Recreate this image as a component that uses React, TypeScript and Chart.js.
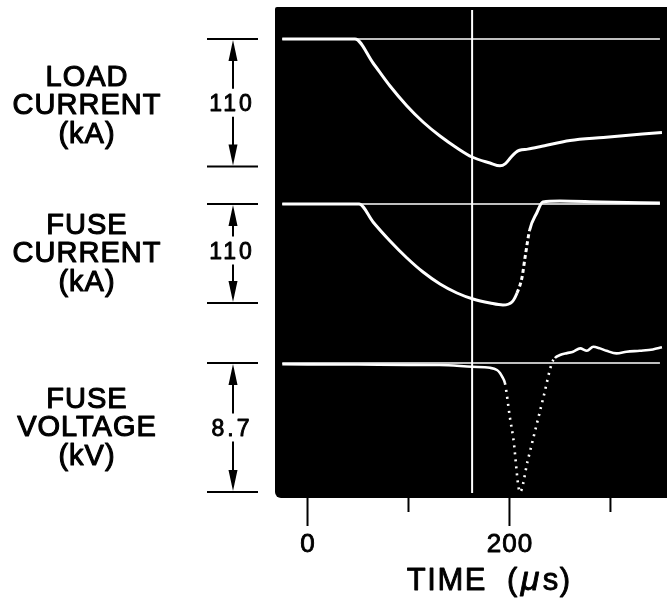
import React, { useEffect, useRef } from "react";
import { Chart, registerables } from "chart.js";

Chart.register(...registerables);

// ---- data (time in µs) ----
const TIME_TICKS = [0, 100, 200, 300];
const TIME_TICK_LABELS = ["0", "", "200", ""];
const TIME_TITLE_PARTS = ["TIME", "(", "\u03bc", "s)"];
const CURSOR_TIME = 163;
const BASE_T = [-25, 349];
const BASE_V = [0, 0];

const LOAD_T = [-25, 47, 64.9, 81.7, 98.5, 114.4, 131.2, 148, 162.9, 180.7, 190.6, 196, 201, 206, 210, 218, 230, 260, 293, 351];
const LOAD_I = [0, 0, -20.7, -40.6, -57.8, -71.6, -83.7, -94.0, -101.8, -107.0, -109.4, -107.5, -102.5, -98, -96, -95, -93, -87.5, -84.9, -80.6];

const FUSE_T = [-25, 51, 64.9, 81.7, 98.5, 114.4, 131.2, 148, 163.9, 180.7, 193.5, 202.5, 207.5, 212.5, 215.5, 220, 227, 233, 250, 290, 349];
const FUSE_I = [0, 0, -20, -41.1, -60, -75.6, -88.9, -98.9, -105.6, -110, -112.2, -108.9, -98.9, -81.1, -58.9, -28.9, -10, 2.2, 3.3, 2.2, 1.1];

const VOLT_T = [-25, 50, 100, 131, 163, 180.7, 187.6, 190.6, 193, 195.5, 200.5, 203.8, 210.4, 218, 226, 234, 242, 245, 250, 257, 263, 270, 276.7, 283, 289.6, 296, 306, 316, 329, 342, 351];
const VOLT_V = [-0.08, -0.1, -0.12, -0.13, -0.25, -0.32, -0.47, -0.67, -0.95, -1.35, -3.7, -5.08, -8.7, -6.6, -4.4, -2.2, 0, 0.34, 0.54, 0.67, 0.76, 0.99, 0.83, 1.1, 0.99, 0.83, 0.65, 0.76, 0.83, 0.92, 1.06];

const TRACE_LABELS = [
  ["LOAD", "CURRENT", "(kA)"],
  ["FUSE", "CURRENT", "(kA)"],
  ["FUSE", "VOLTAGE", "(kV)"],
];
const SCALE_SPANS = [110, 110, 8.7];
const SCALE_TEXT = ["110", "110", "8.7"];
const AXIS_IDS = ["y1", "y2", "y3"];

const pts = (t: number[], v: number[]) => t.map((x, i) => ({ x, y: v[i] }));

const FONT = '"Liberation Sans", Arial, Helvetica, sans-serif';

function line(ctx: CanvasRenderingContext2D, x1: number, y1: number, x2: number, y2: number) {
  ctx.beginPath();
  ctx.moveTo(x1, y1);
  ctx.lineTo(x2, y2);
  ctx.stroke();
}

function tri(ctx: CanvasRenderingContext2D, x: number, tip: number, base: number, hw: number) {
  ctx.beginPath();
  ctx.moveTo(x, tip);
  ctx.lineTo(x - hw, base);
  ctx.lineTo(x + hw, base);
  ctx.closePath();
  ctx.fill();
}

function boldText(ctx: CanvasRenderingContext2D, s: string, x: number, y: number) {
  ctx.fillText(s, x, y);
  ctx.strokeText(s, x, y);
}

function setSpacing(ctx: any, px: number) {
  if ("letterSpacing" in ctx) ctx.letterSpacing = `${px}px`;
}

const scopePlugin = {
  id: "scope",
  beforeDraw(chart: any) {
    const { ctx, chartArea: a } = chart;
    ctx.save();
    ctx.fillStyle = "#fff";
    ctx.fillRect(0, 0, chart.width, chart.height);
    ctx.fillStyle = "#000";
    ctx.beginPath();
    (ctx as any).roundRect(a.left, a.top, a.right - a.left + 10, a.bottom - a.top, [2, 0, 0, 6]);
    ctx.fill();
    ctx.restore();
  },
  beforeDatasetsDraw(chart: any) {
    const { ctx, chartArea: a, scales } = chart;
    const x = scales.x.getPixelForValue(CURSOR_TIME);
    ctx.save();
    ctx.strokeStyle = "#fff";
    ctx.lineWidth = 2;
    line(ctx, x, a.top + 3, x, a.bottom - 5);
    ctx.restore();
  },
  afterDraw(chart: any) {
    const { ctx, chartArea: a, scales } = chart;
    ctx.save();
    ctx.strokeStyle = "#000";
    ctx.fillStyle = "#000";
    ctx.lineJoin = "round";
    // x ticks
    ctx.lineWidth = 2;
    TIME_TICKS.forEach((t, i) => {
      const x = scales.x.getPixelForValue(t);
      const len = TIME_TICK_LABELS[i] ? 28 : 14;
      line(ctx, x, a.bottom, x, a.bottom + len);
    });
    ctx.lineWidth = 0.9;
    ctx.font = `26px ${FONT}`;
    ctx.textAlign = "center";
    ctx.textBaseline = "alphabetic";
    setSpacing(ctx, 1);
    TIME_TICKS.forEach((t, i) => {
      if (!TIME_TICK_LABELS[i]) return;
      boldText(ctx, TIME_TICK_LABELS[i], scales.x.getPixelForValue(t) + 0.5, a.bottom + 54);
    });
    // title TIME (µs)
    const fs = 31;
    ctx.textAlign = "left";
    setSpacing(ctx, 1.5);
    const normal = `${fs}px ${FONT}`;
    const ital = `italic ${fs + 3}px ${FONT}`;
    ctx.font = normal;
    const w0 = ctx.measureText(TIME_TITLE_PARTS[0]).width;
    const w1 = ctx.measureText(TIME_TITLE_PARTS[1]).width;
    const w3 = ctx.measureText(TIME_TITLE_PARTS[3]).width;
    ctx.font = ital;
    const w2 = ctx.measureText(TIME_TITLE_PARTS[2]).width;
    const gap = 20;
    const total = w0 + gap + w1 + 2 + w2 + 2 + w3;
    const cx = scales.x.getPixelForValue(180);
    let x = cx - total / 2;
    const by = a.bottom + 92;
    ctx.font = normal;
    boldText(ctx, TIME_TITLE_PARTS[0], x, by);
    x += w0 + gap;
    boldText(ctx, TIME_TITLE_PARTS[1], x, by);
    x += w1 + 2;
    ctx.font = ital;
    boldText(ctx, TIME_TITLE_PARTS[2], x, by);
    x += w2 + 2;
    ctx.font = normal;
    boldText(ctx, TIME_TITLE_PARTS[3], x, by);

    // left brackets and labels
    const xc = 233;
    AXIS_IDS.forEach((id, k) => {
      const s = scales[id];
      const yTop = s.getPixelForValue(0);
      const yBot = s.getPixelForValue(-SCALE_SPANS[k]);
      const mid = (yTop + yBot) / 2 + (k === 1 ? -3 : 0);
      ctx.lineWidth = 2;
      line(ctx, xc - 26, yTop, xc + 25, yTop);
      line(ctx, xc - 26, yBot, xc + 25, yBot);
      line(ctx, xc, yTop + 18, xc, mid - 14);
      line(ctx, xc, mid + 14, xc, yBot - 18);
      tri(ctx, xc, yTop + 1, yTop + 22, 4.5);
      tri(ctx, xc, yBot - 1, yBot - 22, 4.5);
      ctx.lineWidth = 0.9;
      ctx.font = `23px ${FONT}`;
      ctx.textAlign = "center";
      setSpacing(ctx, 3);
      boldText(ctx, SCALE_TEXT[k], xc - 1, mid + 8.5);
      setSpacing(ctx, 1);
      ctx.lineWidth = 1.1;
      ctx.font = `29px ${FONT}`;
      const c = (yTop + yBot) / 2 + (k === 0 ? 2 : -1);
      [-29, -1, 28].forEach((dy, j) => {
        boldText(ctx, TRACE_LABELS[k][j], 87, c + dy + 10.5);
      });
    });
    ctx.restore();
  },
};

const trace = (data: any[], yAxisID: string, width: number, extra: any = {}) => ({
  data,
  yAxisID,
  borderColor: "#fff",
  backgroundColor: "#fff",
  borderWidth: width,
  pointRadius: 0,
  fill: false,
  cubicInterpolationMode: "monotone",
  ...extra,
});

export default function App() {
  const ref = useRef<HTMLCanvasElement | null>(null);
  useEffect(() => {
    if (!ref.current) return;
    const chart = new Chart(ref.current, {
      type: "line",
      data: {
        datasets: [
          trace(pts(BASE_T, BASE_V), "y1", 1.6, { cubicInterpolationMode: "default" }),
          trace(pts(BASE_T, BASE_V), "y2", 1.6, { cubicInterpolationMode: "default" }),
          trace(pts(BASE_T, BASE_V), "y3", 1.6, { cubicInterpolationMode: "default" }),
          trace(pts(LOAD_T, LOAD_I), "y1", 3),
          trace(pts(FUSE_T, FUSE_I), "y2", 3, {
            segment: {
              borderDash: (c: any) => (c.p0.parsed.x >= 207 && c.p1.parsed.x <= 221 ? [4, 3] : undefined),
            },
          }),
          trace(pts(VOLT_T, VOLT_V), "y3", 2.6, {
            segment: {
              borderDash: (c: any) => (c.p0.parsed.x >= 195 && c.p1.parsed.x <= 245 ? [2, 5] : undefined),
            },
          }),
        ],
      },
      options: {
        responsive: false,
        devicePixelRatio: 1,
        animation: false,
        events: [],
        layout: { padding: { left: 275, right: 0, top: 7, bottom: 104 } },
        plugins: { legend: { display: false }, tooltip: { enabled: false } },
        scales: {
          x: { type: "linear", min: -32.2, max: 356, display: false },
          y1: { type: "linear", min: -396, max: 27.6, display: false },
          y2: { type: "linear", min: -326.7, max: 218.9, display: false },
          y3: { type: "linear", min: -9.1, max: 24.01, display: false },
        },
      },
      plugins: [scopePlugin],
    } as any);
    return () => chart.destroy();
  }, []);
  return (
    <div style={{ position: "fixed", left: 0, top: 0, width: 667, height: 602, background: "#fff" }}>
      <canvas ref={ref} width={667} height={602} style={{ width: 667, height: 602, display: "block" }} />
    </div>
  );
}
